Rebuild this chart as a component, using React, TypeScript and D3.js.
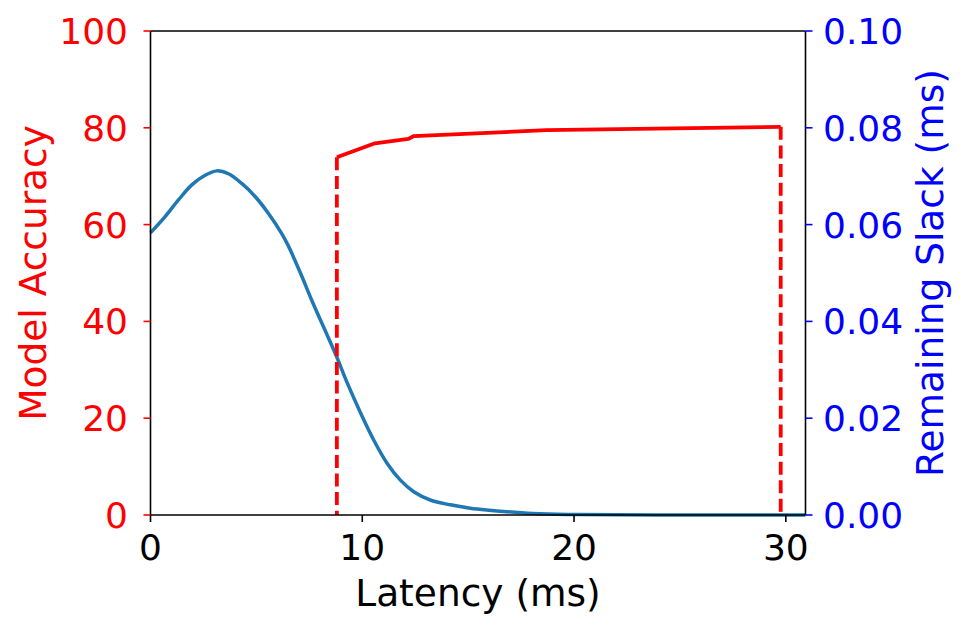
import React, { useEffect, useRef } from 'react';
import * as d3 from 'd3';

// accuracy curve (left axis)
const accLatency = [8.8, 10.6, 12.17, 12.44, 18.7, 29.76];
const accuracy = [73.9, 76.8, 77.7, 78.3, 79.5, 80.2];

// remaining slack curve (right axis)
const slackLatency = [0, 0.68, 1.32, 1.95, 2.58, 3.13, 3.68, 4.31, 4.94, 5.57, 6.19, 6.51, 7.05, 7.68, 8.32, 8.81, 9.28, 9.91, 10.54, 11.17, 11.8, 12.43, 13.21, 14.16, 15.1, 15.97, 18.05, 20.2, 25, 30.93];
const slack = [0.0583, 0.0616, 0.0651, 0.0682, 0.0702, 0.0711, 0.0705, 0.0685, 0.0658, 0.0623, 0.0582, 0.0556, 0.0503, 0.0437, 0.0374, 0.0325, 0.0274, 0.0212, 0.0155, 0.0107, 0.0072, 0.0048, 0.0031, 0.0021, 0.0014, 0.001, 0.0003, 0.0001, 0.0, 0.0];

const xTicks = [0, 10, 20, 30];
const leftTicks = [0, 20, 40, 60, 80, 100];
const rightTicks = [0, 0.02, 0.04, 0.06, 0.08, 0.1];

const W = 969;
const H = 631;
const M = { left: 150.5, right: 805.5, top: 31, bottom: 515 };
const FONT = 'DejaVu Sans, sans-serif';

const App = () => {
  const svgRef = useRef(null);

  useEffect(() => {
    const svg = d3.select(svgRef.current);
    svg.selectAll('*').remove();

    const x = d3.scaleLinear().domain([0, 30.93]).range([M.left, M.right]);
    const yL = d3.scaleLinear().domain([0, 100]).range([M.bottom, M.top]);
    const yR = d3.scaleLinear().domain([0, 0.1]).range([M.bottom, M.top]);

    const plot = svg.append('g');

    /* slack line */
    const slackLine = d3
      .line<number>()
      .x((d, i) => x(slackLatency[i]))
      .y(d => yR(d))
      .curve(d3.curveCatmullRom.alpha(0.5));
    plot
      .append('path')
      .datum(slack)
      .attr('d', slackLine)
      .attr('fill', 'none')
      .attr('stroke', '#1f77b4')
      .attr('stroke-width', 3.5);

    /* accuracy line */
    const accLine = d3
      .line<number>()
      .x((d, i) => x(accLatency[i]))
      .y(d => yL(d));
    plot
      .append('path')
      .datum(accuracy)
      .attr('d', accLine)
      .attr('fill', 'none')
      .attr('stroke', 'red')
      .attr('stroke-width', 3.8)
      .attr('stroke-linejoin', 'round');

    const first = 0;
    const last = accuracy.length - 1;
    [first, last].forEach(i => {
      plot
        .append('line')
        .attr('x1', x(accLatency[i]))
        .attr('x2', x(accLatency[i]))
        .attr('y1', yL(accuracy[i]))
        .attr('y2', yL(0))
        .attr('stroke', 'red')
        .attr('stroke-width', 3.8)
        .attr('stroke-dasharray', '13 5.6');
    });

    /* frame */
    const frame = svg.append('g').attr('stroke', 'black').attr('stroke-width', 1.6);
    frame.append('line').attr('x1', M.left).attr('x2', M.right).attr('y1', M.top).attr('y2', M.top);
    frame.append('line').attr('x1', M.left).attr('x2', M.right).attr('y1', M.bottom).attr('y2', M.bottom);
    frame.append('line').attr('x1', M.left).attr('x2', M.left).attr('y1', M.top).attr('y2', M.bottom);
    frame.append('line').attr('x1', M.right).attr('x2', M.right).attr('y1', M.top).attr('y2', M.bottom);

    /* x axis */
    const xg = svg.append('g');
    xTicks.forEach(t => {
      xg.append('line')
        .attr('x1', x(t)).attr('x2', x(t))
        .attr('y1', M.bottom).attr('y2', M.bottom + 7)
        .attr('stroke', 'black').attr('stroke-width', 1.6);
      xg.append('text')
        .attr('x', x(t)).attr('y', 560)
        .attr('text-anchor', 'middle')
        .attr('font-family', FONT).attr('font-size', 36)
        .attr('fill', 'black')
        .text(t);
    });
    svg.append('text')
      .attr('x', (M.left + M.right) / 2).attr('y', 606)
      .attr('text-anchor', 'middle')
      .attr('font-family', FONT).attr('font-size', 37.5)
      .text('Latency (ms)');

    /* left axis */
    const lg = svg.append('g');
    leftTicks.forEach(t => {
      lg.append('line')
        .attr('x1', M.left - 7).attr('x2', M.left)
        .attr('y1', yL(t)).attr('y2', yL(t))
        .attr('stroke', 'red').attr('stroke-width', 1.6);
      lg.append('text')
        .attr('x', 128).attr('y', yL(t) + 13)
        .attr('text-anchor', 'end')
        .attr('font-family', FONT).attr('font-size', 36)
        .attr('fill', 'red')
        .text(t);
    });
    svg.append('text')
      .attr('transform', `translate(46, ${(M.top + M.bottom) / 2}) rotate(-90)`)
      .attr('text-anchor', 'middle')
      .attr('font-family', FONT).attr('font-size', 37.5)
      .attr('fill', 'red')
      .text('Model Accuracy');

    /* right axis */
    const rg = svg.append('g');
    rightTicks.forEach(t => {
      rg.append('line')
        .attr('x1', M.right).attr('x2', M.right + 7)
        .attr('y1', yR(t)).attr('y2', yR(t))
        .attr('stroke', 'blue').attr('stroke-width', 1.6);
      rg.append('text')
        .attr('x', 823).attr('y', yR(t) + 13)
        .attr('text-anchor', 'start')
        .attr('font-family', FONT).attr('font-size', 36)
        .attr('fill', 'blue')
        .text(d3.format('.2f')(t));
    });
    svg.append('text')
      .attr('transform', `translate(943, ${(M.top + M.bottom) / 2}) rotate(-90)`)
      .attr('text-anchor', 'middle')
      .attr('font-family', FONT).attr('font-size', 37.5)
      .attr('fill', 'blue')
      .text('Remaining Slack (ms)');
  }, []);

  return (
    <svg
      ref={svgRef}
      width={W}
      height={H}
      style={{ position: 'absolute', left: 0, top: 0, background: 'white' }}
    />
  );
};

export default App;
